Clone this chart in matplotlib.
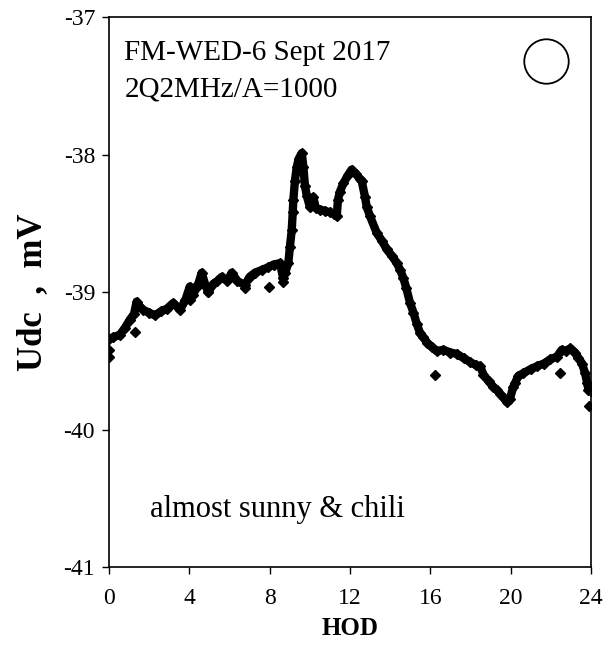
import matplotlib
matplotlib.use("Agg")
import matplotlib.pyplot as plt

plt.rcParams['font.family'] = ['Liberation Serif', 'DejaVu Serif']

# main trace (hour of day, Udc in mV)
hod = [0.0, 0.2, 0.55, 0.8, 1.05, 1.25, 1.38, 1.5, 1.71, 2.0, 2.29, 2.6, 2.9, 3.2,
       3.54, 3.8, 4.03, 4.2, 4.37, 4.45, 4.62, 4.8, 4.94, 5.2, 5.4, 5.61, 5.9, 6.11,
       6.4, 6.77, 7.0, 7.27, 7.6, 7.93, 8.2, 8.52, 8.67, 8.77, 8.93, 9.01, 9.1,
       9.15, 9.18, 9.26, 9.35, 9.45, 9.6, 9.68, 9.76, 9.85, 10.0, 10.17, 10.3,
       10.5, 10.75, 11.0, 11.2, 11.34, 11.4, 11.5, 11.67, 11.9, 12.08, 12.3, 12.5,
       12.58, 12.75, 12.83, 13.0, 13.33, 13.6, 13.83, 14.1, 14.33, 14.5, 14.66,
       14.8, 14.99, 15.16, 15.32, 15.49, 15.65, 15.85, 16.07, 16.32, 16.65, 17.0,
       17.31, 17.65, 17.98, 18.25, 18.48, 18.64, 18.9, 19.14, 19.3, 19.47, 19.65,
       19.8, 19.95, 20.13, 20.22, 20.38, 20.63, 21.0, 21.3, 21.65, 21.96, 22.3,
       22.54, 22.75, 22.96, 23.2, 23.37, 23.55, 23.7, 23.8, 23.87, 24.0]
udc = [-39.34, -39.33, -39.31, -39.26, -39.20, -39.16, -39.07, -39.10, -39.13,
       -39.15, -39.17, -39.14, -39.12, -39.08, -39.13, -39.06, -38.96, -39.02,
       -38.96, -38.94, -38.86, -38.95, -39.00, -38.94, -38.92, -38.89, -38.92,
       -38.86, -38.92, -38.95, -38.89, -38.86, -38.84, -38.82, -38.80, -38.79,
       -38.90, -38.86, -38.79, -38.67, -38.55, -38.42, -38.33, -38.19, -38.09,
       -38.03, -37.99, -38.09, -38.23, -38.30, -38.38, -38.31, -38.39, -38.40,
       -38.41, -38.42, -38.43, -38.45, -38.33, -38.27, -38.21, -38.15, -38.11,
       -38.14, -38.18, -38.19, -38.31, -38.38, -38.45, -38.57, -38.63, -38.69,
       -38.74, -38.79, -38.84, -38.90, -38.97, -39.08, -39.15, -39.23, -39.30,
       -39.33, -39.37, -39.40, -39.43, -39.42, -39.44, -39.45, -39.48, -39.51,
       -39.53, -39.54, -39.60, -39.65, -39.69, -39.71, -39.74, -39.77, -39.80,
       -39.78, -39.69, -39.66, -39.61, -39.59, -39.56, -39.54, -39.52, -39.49,
       -39.47, -39.42, -39.43, -39.41, -39.44, -39.48, -39.52, -39.59, -39.66,
       -39.71, -39.72]

# isolated scattered points
out_hod = [0.0, 0.0, 1.3, 4.03, 4.94, 6.77, 7.95, 8.67, 16.23, 22.46, 23.92]
out_udc = [-39.42, -39.47, -39.29, -39.06, -39.00, -38.97, -38.96, -38.93,
           -39.60, -39.59, -39.83]

fig = plt.figure(figsize=(6.05, 6.54), dpi=100)
ax = fig.add_axes([0.180, 0.133, 0.797, 0.841])

ax.plot(hod, udc, color='black', lw=6, solid_capstyle='round',
        solid_joinstyle='round', marker='D', ms=5.5, mfc='black', mec='black')
ax.plot(out_hod, out_udc, ls='none', marker='D', ms=5.5, color='black')

ax.set_xlim(0, 24)
ax.set_ylim(-41, -37)
ax.set_xticks([0, 4, 8, 12, 16, 20, 24])
ax.set_yticks([-41, -40, -39, -38, -37])
ax.set_yticklabels(['-41', '-40', '-39', '-38', '-37'])
ax.tick_params(direction='out', length=5, width=1, labelsize=17, colors='black')
ax.tick_params(axis='x', pad=10)
ax.tick_params(axis='y', pad=5)
for s in ax.spines.values():
    s.set_linewidth(1.2)

ax.set_xlabel('HOD', fontsize=18, fontweight='bold', labelpad=6)
ax.set_ylabel('Udc  ,  mV', fontsize=25, fontweight='bold', labelpad=10)

ax.text(0.032, 0.935, 'FM-WED-6 Sept 2017', transform=ax.transAxes,
        fontsize=21, va='center', ha='left')
ax.text(0.032, 0.868, '2Q2MHz/A=1000', transform=ax.transAxes,
        fontsize=21, va='center', ha='left')
ax.text(0.085, 0.105, 'almost sunny & chili', transform=ax.transAxes,
        fontsize=22, va='center', ha='left')
ax.plot([0.907], [0.92], transform=ax.transAxes, marker='o', ms=32,
        mfc='none', mec='black', mew=1.3, clip_on=False)

fig.savefig('out.png', dpi=100)
